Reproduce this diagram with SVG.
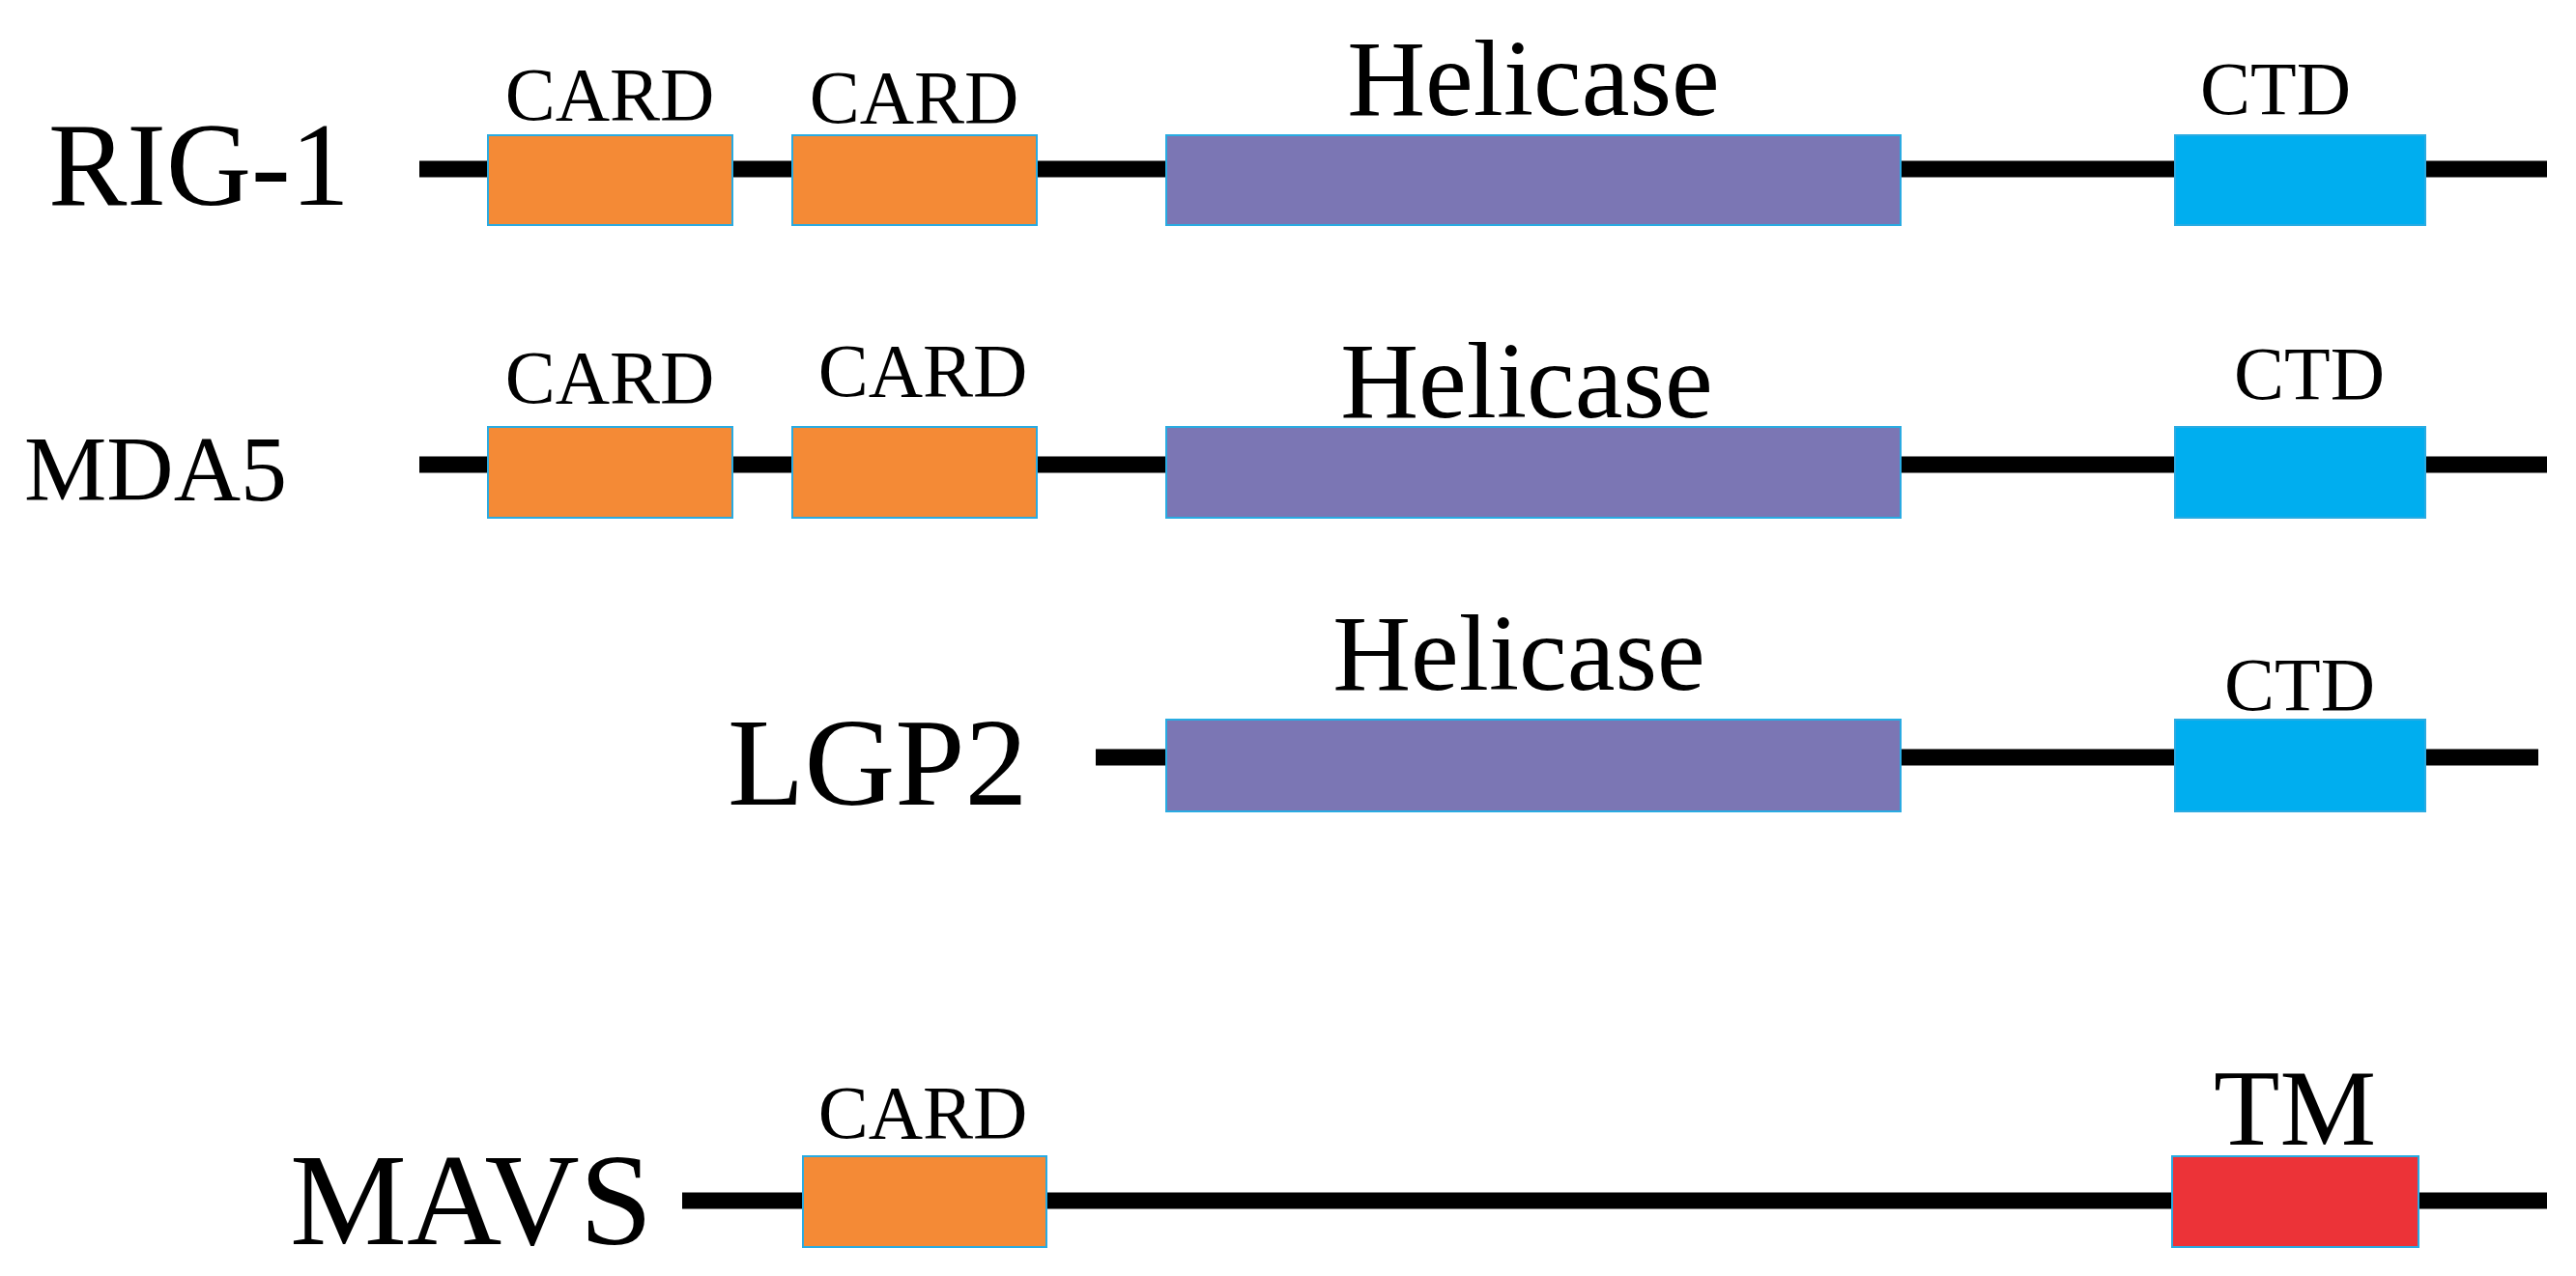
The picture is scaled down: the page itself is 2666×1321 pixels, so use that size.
<svg xmlns="http://www.w3.org/2000/svg" width="2666" height="1321" viewBox="0 0 2666 1321">
<style>
.ln{stroke:#000;stroke-width:17}
.card{fill:#F48A36;stroke:#29ABE2;stroke-width:2}
.hel{fill:#7B76B4;stroke:#29ABE2;stroke-width:2}
.ctd{fill:#00AEEF;stroke:#29ABE2;stroke-width:2}
.tm{fill:#EC3338;stroke:#29ABE2;stroke-width:2}
text{font-family:"Liberation Serif","Times New Roman",serif;fill:#000}
.d{font-size:78px;text-anchor:middle}
.h{font-size:112px;text-anchor:middle}
</style>
<rect width="2666" height="1321" fill="#fff"/>
<g id="connectors">
<line class="ln" x1="434" y1="175" x2="2636" y2="175"/>
<line class="ln" x1="434" y1="481" x2="2636" y2="481"/>
<line class="ln" x1="1134" y1="784" x2="2627" y2="784"/>
<line class="ln" x1="706" y1="1243" x2="2636" y2="1243"/>
</g>
<g id="rig1">
<text x="50" y="212" font-size="122">RIG-1</text>
<rect class="card" x="505" y="140" width="253" height="93"/>
<rect class="card" x="820" y="140" width="253" height="93"/>
<rect class="hel" x="1207" y="140" width="760" height="93"/>
<rect class="ctd" x="2251" y="140" width="259" height="93"/>
<text class="d" x="631" y="124">CARD</text>
<text class="d" x="946" y="127">CARD</text>
<text class="h" x="1587" y="119">Helicase</text>
<text class="d" x="2355" y="118">CTD</text>
</g>
<g id="mda5">
<text x="25" y="518" font-size="96">MDA5</text>
<rect class="card" x="505" y="442" width="253" height="94"/>
<rect class="card" x="820" y="442" width="253" height="94"/>
<rect class="hel" x="1207" y="442" width="760" height="94"/>
<rect class="ctd" x="2251" y="442" width="259" height="94"/>
<text class="d" x="631" y="417">CARD</text>
<text class="d" x="955" y="410">CARD</text>
<text class="h" x="1580" y="432">Helicase</text>
<text class="d" x="2390" y="413">CTD</text>
</g>
<g id="lgp2">
<text x="753" y="833" font-size="130">LGP2</text>
<rect class="hel" x="1207" y="745" width="760" height="95"/>
<rect class="ctd" x="2251" y="745" width="259" height="95"/>
<text class="h" x="1572" y="714">Helicase</text>
<text class="d" x="2380" y="735">CTD</text>
</g>
<g id="mavs">
<text x="300" y="1288" font-size="136">MAVS</text>
<rect class="card" x="831" y="1197" width="252" height="94"/>
<rect class="tm" x="2248" y="1197" width="255" height="94"/>
<text class="d" x="955" y="1178">CARD</text>
<text class="h" x="2375" y="1185">TM</text>
</g>
</svg>
